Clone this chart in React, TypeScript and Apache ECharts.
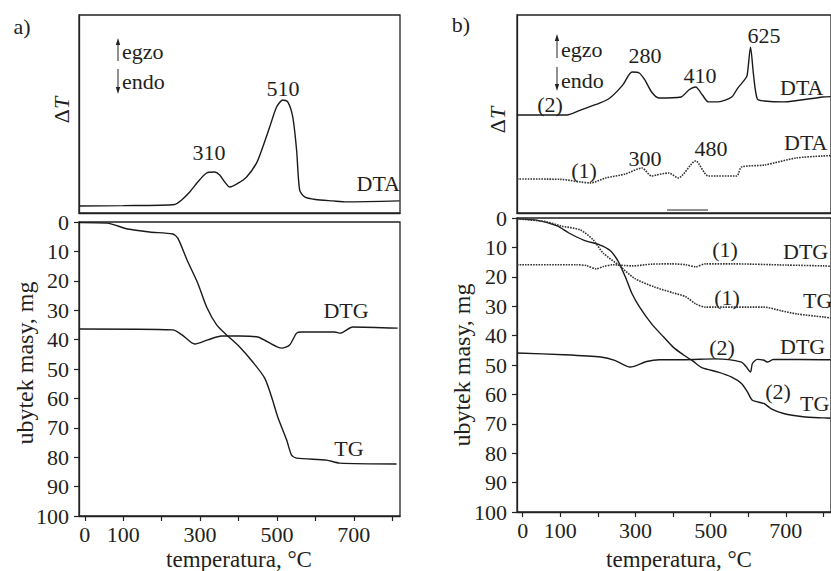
import React, { useEffect, useRef } from 'react';
import * as echarts from 'echarts';

// x axis: temperature, °C
const TEMP_TICKS = [0, 100, 200, 300, 400, 500, 600, 700, 800];
const TEMP_LABELS = [0, 100, 300, 500, 700];
const T_MIN = -15;
const T_MAX = 820;

// a) sample
const A_DTA = [[-15, 3.5], [100, 3.7], [234, 4.3], [252, 6.6], [273, 10.6], [294, 15.7], [317, 20.2], [338, 20.7], [351, 19.2], [364, 15.7], [377, 13.1], [400, 15.2], [421, 18.2], [447, 25.3], [463, 33.3], [481, 43.4], [499, 53.5], [515, 57.1], [528, 56.1], [541, 48.5], [551, 31.8], [559, 11.6], [572, 8.1], [600, 6.8], [645, 6.1], [681, 5.6], [819, 6.1]];
const A_TG = [[-15, 0.2], [58, 0.4], [112, 2.4], [169, 3.4], [229, 4.1], [242, 5.5], [266, 12.9], [294, 20.8], [317, 28.9], [343, 35.0], [369, 38.4], [403, 42.5], [437, 47.6], [468, 53.1], [486, 59.5], [502, 66.3], [525, 74.1], [538, 79.3], [551, 80.3], [629, 81.0], [663, 82.0], [811, 82.3]];
const A_DTG = [[-15, 36.4], [229, 36.7], [253, 38.4], [286, 41.5], [320, 40.1], [356, 38.8], [403, 38.8], [450, 39.1], [476, 40.8], [512, 42.9], [533, 41.8], [551, 37.8], [564, 37.4], [650, 37.4], [665, 37.8], [697, 35.7], [814, 36.1]];

// b) samples (1) dotted, (2) solid
const B_DTA2 = [[-15, 49.5], [117, 49.5], [154, 52.0], [206, 55.6], [232, 58.1], [266, 64.6], [291, 71.2], [310, 70.7], [325, 67.2], [343, 61.1], [362, 58.1], [421, 58.6], [442, 62.1], [460, 63.6], [478, 59.6], [494, 56.1], [520, 56.1], [556, 58.6], [572, 63.1], [590, 67.2], [597, 69.5], [606, 83.8], [614, 69.7], [624, 57.6], [642, 56.6], [694, 56.1], [798, 58.6], [819, 58.8]];
const B_DTA1 = [[-15, 17.2], [100, 17.0], [180, 15.2], [221, 17.7], [273, 19.7], [317, 22.7], [343, 18.7], [356, 19.2], [388, 20.2], [414, 17.7], [460, 26.3], [494, 18.7], [569, 18.7], [582, 23.2], [642, 24.2], [728, 27.8], [798, 28.8], [819, 29.0]];
const B_TG2 = [[-15, 0.3], [40, 0.8], [92, 2.7], [123, 5.1], [162, 7.5], [206, 9.2], [232, 11.0], [253, 14.5], [273, 20], [290, 25.5], [312, 30.5], [343, 36], [375, 40.5], [401, 44], [427, 46.5], [453, 48.7], [478, 51.0], [520, 52.4], [556, 54.1], [582, 56.3], [598, 59.2], [611, 62.0], [642, 63.1], [660, 64.8], [694, 66.5], [746, 67.6], [801, 68.0], [819, 68.1]];
const B_TG1 = [[-15, 0.3], [60, 1.2], [102, 2.7], [154, 4.1], [188, 7.5], [214, 11.9], [258, 16.3], [297, 20.5], [349, 23.4], [401, 25.5], [434, 26.8], [460, 29.2], [486, 30.3], [642, 30.3], [686, 31.5], [728, 32.6], [801, 33.7], [819, 34.0]];
const B_DTG2 = [[-15, 45.9], [110, 46.5], [208, 47.3], [245, 48.4], [286, 50.7], [330, 48.8], [364, 48.2], [427, 48.2], [512, 47.9], [582, 49.0], [595, 50.7], [606, 52.4], [611, 49.5], [624, 48.1], [642, 48.4], [650, 49.0], [668, 48.1], [801, 48.2], [819, 48.2]];
const B_DTG1 = [[-15, 15.9], [143, 15.9], [170, 16.2], [195, 17.3], [215, 16.5], [240, 15.9], [291, 16.3], [343, 15.7], [395, 15.6], [434, 15.9], [460, 16.6], [486, 15.6], [556, 15.6], [700, 16], [801, 16.3], [819, 16.4]];

const FONT = '"Liberation Serif", "Times New Roman", serif';
const INK = '#231f20';

export default function App() {
  const ref = useRef<HTMLDivElement>(null);
  useEffect(() => {
    document.body.style.margin = '0';
    const chart = echarts.init(ref.current!, null, { renderer: 'svg' });

    const grids = [
      { left: 79, top: 15, width: 321, height: 198 },
      { left: 79, top: 222, width: 321, height: 294 },
      { left: 517, top: 15, width: 321, height: 198 },
      { left: 517, top: 218, width: 321, height: 294 },
    ].map((g) => ({ ...g, show: true, borderColor: '#222', borderWidth: 1.3, backgroundColor: 'transparent' }));

    const xAxes = [0, 1, 2, 3].map((i) => {
      const bottom = i === 1 || i === 3;
      return {
        type: 'value',
        gridIndex: i,
        min: T_MIN,
        max: T_MAX,
        splitLine: { show: false },
        axisLine: { show: true, onZero: false, lineStyle: { color: '#222', width: 1.3 } },
        axisTick: bottom
          ? { show: true, customValues: TEMP_TICKS, length: 5, lineStyle: { color: '#222', width: 1.2 } }
          : { show: false },
        axisLabel: bottom
          ? { show: true, customValues: TEMP_LABELS, fontSize: 22, fontFamily: FONT, color: INK, margin: 7 }
          : { show: false },
      };
    });

    const yAxes = [0, 1, 2, 3].map((i) => {
      const bottom = i === 1 || i === 3;
      if (!bottom) {
        return {
          type: 'value', gridIndex: i, min: 0, max: 100,
          splitLine: { show: false },
          axisLine: { show: true, onZero: false, lineStyle: { color: '#222', width: 1.3 } },
          axisTick: { show: false }, axisLabel: { show: false },
        };
      }
      return {
        type: 'value', gridIndex: i, min: 0, max: 100, interval: 10, inverse: true,
        splitLine: { show: false },
        axisLine: { show: true, onZero: false, lineStyle: { color: '#222', width: 1.3 } },
        axisTick: { show: true, length: 5, lineStyle: { color: '#222', width: 1.2 } },
        axisLabel: { show: true, fontSize: 22, fontFamily: FONT, color: INK, margin: 10, showMinLabel: true, showMaxLabel: true },
      };
    });

    const solid = { color: '#1a1a1a', width: 1.4 };
    const dotted = { color: '#333333', width: 1.6, type: [1.6, 1.1] };
    const line = (data: number[][], idx: number, style: any) => ({
      type: 'line', xAxisIndex: idx, yAxisIndex: idx, data, symbol: 'none', smooth: 0.25,
      lineStyle: style, silent: true,
    });

    const txt = (x: number, y: number, text: string, align = 'center', extra: any = {}) => ({
      type: 'text', x, y, silent: true,
      style: { text, fontSize: 22, fontFamily: FONT, fill: INK, align, verticalAlign: 'middle', ...extra },
    });
    const vtxt = (x: number, y: number, text: string, extra: any = {}) => ({
      type: 'text', x, y, rotation: Math.PI / 2, silent: true,
      style: { text, fontSize: 24, fontFamily: FONT, fill: INK, align: 'center', verticalAlign: 'middle', ...extra },
    });
    const deltaT = (x: number, y: number) => vtxt(x, y, '{d|Δ}{t|T}', {
      rich: {
        d: { fontSize: 22, fontFamily: FONT, fill: INK },
        t: { fontSize: 22, fontFamily: FONT, fill: INK, fontStyle: 'italic' },
      },
    });
    const arrow = (x: number, yFrom: number, yTip: number) => {
      const dir = yTip < yFrom ? 1 : -1;
      return [
        { type: 'line', silent: true, shape: { x1: x, y1: yFrom, x2: x, y2: yTip + dir * 4 }, style: { stroke: '#222', lineWidth: 1 } },
        { type: 'polygon', silent: true, shape: { points: [[x - 2.2, yTip + dir * 7], [x, yTip], [x + 2.2, yTip + dir * 7]] }, style: { fill: '#222' } },
      ];
    };

    const graphic: any[] = [
      txt(22, 26, 'a)'),
      txt(461, 24, 'b)'),
      deltaT(61, 110),
      deltaT(497, 120),
      ...arrow(118, 61, 38),
      ...arrow(118, 69, 94),
      txt(122, 51, 'egzo', 'left'),
      txt(122, 81, 'endo', 'left'),
      ...arrow(557, 58, 34),
      ...arrow(557, 67, 91),
      txt(561, 49, 'egzo', 'left'),
      txt(561, 80, 'endo', 'left'),
      txt(209, 152, '310'),
      txt(283, 88, '510'),
      txt(400, 183, 'DTA', 'right'),
      txt(346, 310, 'DTG'),
      txt(349, 448, 'TG'),
      txt(550, 104, '(2)'),
      txt(645, 55, '280'),
      txt(700, 75, '410'),
      txt(764, 35, '625'),
      txt(780, 87, 'DTA', 'left'),
      txt(584, 170, '(1)'),
      txt(645, 158, '300'),
      txt(711, 148, '480'),
      txt(784, 142, 'DTA', 'left'),
      { type: 'line', silent: true, shape: { x1: 667, y1: 210, x2: 708, y2: 210 }, style: { stroke: '#222', lineWidth: 1.2 } },
      txt(725, 249, '(1)'),
      txt(783, 251, 'DTG', 'left'),
      txt(727, 297, '(1)'),
      txt(803, 300, 'TG', 'left'),
      txt(722, 347, '(2)'),
      txt(780, 346, 'DTG', 'left'),
      txt(778, 391, '(2)'),
      txt(800, 403, 'TG', 'left'),
      vtxt(25, 363, 'ubytek masy, mg'),
      vtxt(462, 365, 'ubytek masy, mg'),
      txt(239, 559, 'temperatura, °C', 'center', { fontSize: 23 }),
      txt(679, 559, 'temperatura, °C', 'center', { fontSize: 23 }),
    ];

    chart.setOption({
      animation: false,
      backgroundColor: '#ffffff',
      grid: grids,
      xAxis: xAxes,
      yAxis: yAxes,
      series: [
        line(A_DTA, 0, solid),
        line(A_TG, 1, solid),
        line(A_DTG, 1, solid),
        line(B_DTA2, 2, solid),
        line(B_DTA1, 2, dotted),
        line(B_TG2, 3, solid),
        line(B_TG1, 3, dotted),
        line(B_DTG2, 3, solid),
        line(B_DTG1, 3, dotted),
      ],
      graphic,
    });
    return () => chart.dispose();
  }, []);
  return <div ref={ref} style={{ width: 831, height: 571 }} />;
}
